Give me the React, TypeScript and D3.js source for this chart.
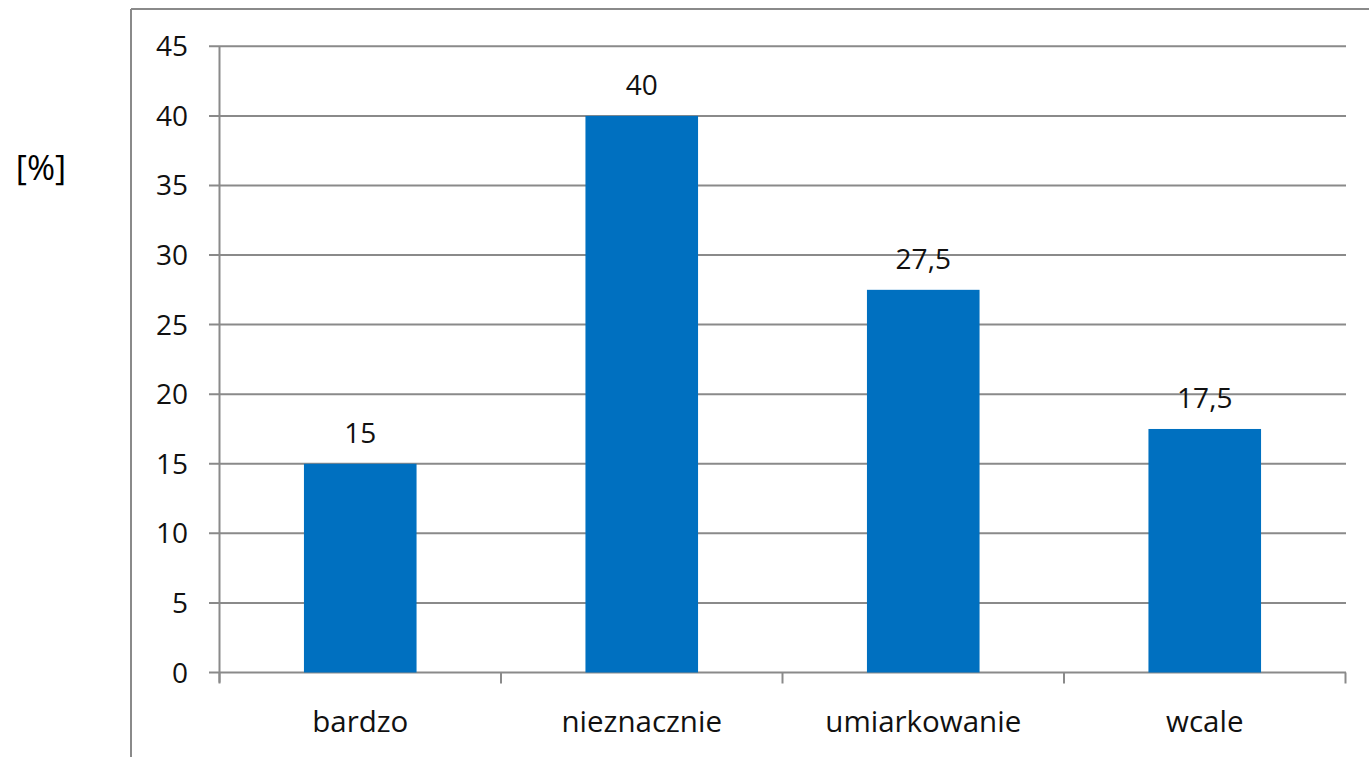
import React from "react";
import * as d3 from "d3";

const categories = ["bardzo", "nieznacznie", "umiarkowanie", "wcale"];
const values = [15, 40, 27.5, 17.5];
const valueLabels = ["15", "40", "27,5", "17,5"];
const yTicks = [0, 5, 10, 15, 20, 25, 30, 35, 40, 45];

const W = 1369;
const H = 757;
const FONT = "'Open Sans', 'Noto Sans', sans-serif";
const GRID = "#8a8a8a";

export default function App() {
  const x = d3
    .scaleBand<string>()
    .domain(categories)
    .range([219.5, 1345.5])
    .paddingInner(0.6)
    .paddingOuter(0.3);
  const y = d3.scaleLinear().domain([0, 45]).range([672.5, 46.3]);
  const step = x.step();
  const boundaries = [0, ...categories.map((_, i) => i + 1)].map(
    (i) => 219.5 + i * step
  );

  return (
    <svg
      width={W}
      height={H}
      style={{ position: "absolute", left: 0, top: 0, background: "#fff" }}
      fontFamily={FONT}
    >
      <rect x={0} y={0} width={W} height={H} fill="#fff" />
      {/* outer chart border */}
      <line x1={131} y1={9} x2={W} y2={9} stroke={GRID} strokeWidth={2} />
      <line x1={131} y1={9} x2={131} y2={H} stroke={GRID} strokeWidth={2} />

      <text x={41} y={180} fontSize={34} textAnchor="middle" fill="#000">
        [%]
      </text>

      {/* gridlines + y ticks */}
      {yTicks.map((t) => (
        <g key={t}>
          <line
            x1={209}
            x2={1346}
            y1={y(t)}
            y2={y(t)}
            stroke={GRID}
            strokeWidth={2}
          />
          <text
            x={188}
            y={y(t) + 10}
            fontSize={28}
            textAnchor="end"
            fill="#111"
          >
            {t}
          </text>
        </g>
      ))}

      {/* y axis line */}
      <line x1={219.5} x2={219.5} y1={y(45)} y2={y(0) + 10} stroke={GRID} strokeWidth={2} />

      {/* x tick marks */}
      {boundaries.map((b, i) => (
        <line
          key={i}
          x1={b}
          x2={b}
          y1={y(0)}
          y2={y(0) + 11}
          stroke={GRID}
          strokeWidth={2}
        />
      ))}

      {/* bars */}
      {categories.map((c, i) => (
        <rect
          key={c}
          x={x(c)!}
          y={y(values[i])}
          width={x.bandwidth()}
          height={y(0) - y(values[i])}
          fill="#0070C0"
        />
      ))}

      {/* value labels */}
      {categories.map((c, i) => (
        <text
          key={c}
          x={x(c)! + x.bandwidth() / 2}
          y={y(values[i]) - 21}
          fontSize={28}
          textAnchor="middle"
          fill="#111"
        >
          {valueLabels[i]}
        </text>
      ))}

      {/* category labels */}
      {categories.map((c) => (
        <text
          key={c}
          x={x(c)! + x.bandwidth() / 2}
          y={731.5}
          fontSize={29.5}
          textAnchor="middle"
          fill="#111"
        >
          {c}
        </text>
      ))}
    </svg>
  );
}
